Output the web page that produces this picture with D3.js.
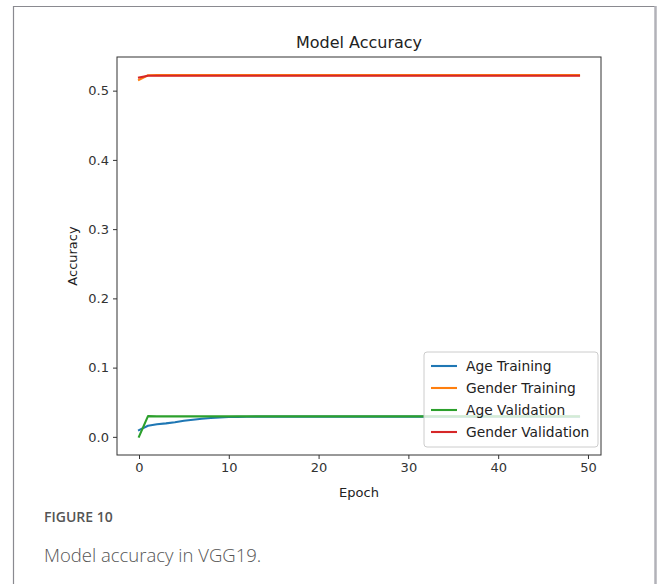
<!DOCTYPE html>
<html>
<head>
<meta charset="utf-8">
<script src="https://cdn.jsdelivr.net/npm/d3@7"></script>
<style>
  body { margin: 0; background: #fff; }
  svg text { font-family: "DejaVu Sans", sans-serif; }
</style>
</head>
<body>
<svg id="chart" width="659" height="584"></svg>
<script>
// values
const epochs = d3.range(0, 50);
const ageTraining = [0.0097, 0.0160, 0.0182, 0.0195, 0.0212, 0.0232, 0.0248, 0.0262, 0.0272, 0.0280, 0.0286, 0.0289, 0.0291]
  .concat(d3.range(37).map(() => 0.0292));
const genderTraining = [0.5155, 0.5222].concat(d3.range(48).map(() => 0.5224));
const ageValidation = [0.0002, 0.0300].concat(d3.range(48).map(() => 0.0296));
const genderValidation = [0.5190, 0.5216].concat(d3.range(48).map(() => 0.5216));
const xTicks = [0, 10, 20, 30, 40, 50];
const yTicks = [0.0, 0.1, 0.2, 0.3, 0.4, 0.5];

const seriesList = [
  { name: "Age Training", values: ageTraining, color: "#1f77b4" },
  { name: "Gender Training", values: genderTraining, color: "#ff7f0e" },
  { name: "Age Validation", values: ageValidation, color: "#2ca02c" },
  { name: "Gender Validation", values: genderValidation, color: "#d62728" }
];

const svg = d3.select("#chart");

// page frame
svg.append("line").attr("x1", 13).attr("x2", 656).attr("y1", 6.5).attr("y2", 6.5)
  .attr("stroke", "#8a8a90").attr("stroke-width", 1.2);
svg.append("line").attr("x1", 13.5).attr("x2", 13.5).attr("y1", 6).attr("y2", 584)
  .attr("stroke", "#8a8a90").attr("stroke-width", 1.2);
svg.append("line").attr("x1", 655.5).attr("x2", 655.5).attr("y1", 6).attr("y2", 584)
  .attr("stroke", "#b2b2b8").attr("stroke-width", 2.5);

const pLeft = 117, pRight = 601, pTop = 57, pBottom = 455;

const x = d3.scaleLinear().domain([-2.45, 51.45]).range([pLeft, pRight]);
const y = d3.scaleLinear().domain([-0.0262, 0.5486]).range([pBottom, pTop]);

// lines
const line = d3.line()
  .x((d, i) => x(epochs[i]))
  .y(d => y(d));

const plot = svg.append("g");
seriesList.forEach(s => {
  plot.append("path")
    .attr("d", line(s.values))
    .attr("fill", "none")
    .attr("stroke", s.color)
    .attr("stroke-width", 2.1)
    .attr("stroke-linejoin", "round")
    .attr("stroke-linecap", "square");
});

// axes
const xAxis = svg.append("g")
  .attr("transform", "translate(0," + pBottom + ")")
  .call(d3.axisBottom(x).tickValues(xTicks).tickSize(4).tickPadding(4).tickFormat(d3.format("d")));
const yAxis = svg.append("g")
  .attr("transform", "translate(" + pLeft + ",0)")
  .call(d3.axisLeft(y).tickValues(yTicks).tickSize(4).tickPadding(4).tickFormat(d3.format(".1f")));

[xAxis, yAxis].forEach(a => {
  a.select(".domain").remove();
  a.selectAll(".tick line").attr("stroke", "#333");
  a.selectAll(".tick text").attr("fill", "#333").style("font-size", "13px");
});

// spines
svg.append("rect")
  .attr("x", pLeft).attr("y", pTop)
  .attr("width", pRight - pLeft).attr("height", pBottom - pTop)
  .attr("fill", "none").attr("stroke", "#333").attr("stroke-width", 1);

// titles
svg.append("text").attr("x", (pLeft + pRight) / 2).attr("y", 48)
  .attr("text-anchor", "middle").attr("fill", "#222").style("font-size", "16px")
  .text("Model Accuracy");
svg.append("text").attr("x", (pLeft + pRight) / 2).attr("y", 497)
  .attr("text-anchor", "middle").attr("fill", "#222").style("font-size", "13px")
  .text("Epoch");
svg.append("text")
  .attr("transform", "translate(77," + (pTop + pBottom) / 2 + ") rotate(-90)")
  .attr("text-anchor", "middle").attr("fill", "#222").style("font-size", "13px")
  .text("Accuracy");

// legend
const lg = svg.append("g").attr("transform", "translate(424,352)");
lg.append("rect")
  .attr("width", 174).attr("height", 95).attr("rx", 3)
  .attr("fill", "#fff").attr("fill-opacity", 0.8)
  .attr("stroke", "#ccc").attr("stroke-width", 1);
seriesList.forEach((s, i) => {
  const row = lg.append("g").attr("transform", "translate(0," + (14 + i * 22) + ")");
  row.append("line").attr("x1", 7).attr("x2", 33).attr("y1", 0).attr("y2", 0)
    .attr("stroke", s.color).attr("stroke-width", 2.1);
  row.append("text").attr("x", 42).attr("y", 5)
    .attr("fill", "#222").style("font-size", "13.8px")
    .text(s.name);
});

// caption
svg.append("text").attr("x", 44).attr("y", 522)
  .attr("fill", "#555").style("font-family", "'Open Sans', sans-serif")
  .style("font-size", "14px").style("font-weight", "600")
  .text("FIGURE 10");
svg.append("text").attr("x", 44).attr("y", 562)
  .attr("fill", "#555").style("font-family", "'Open Sans', sans-serif")
  .style("font-size", "18.5px").style("font-weight", "300")
  .text("Model accuracy in VGG19.");
</script>
</body>
</html>
